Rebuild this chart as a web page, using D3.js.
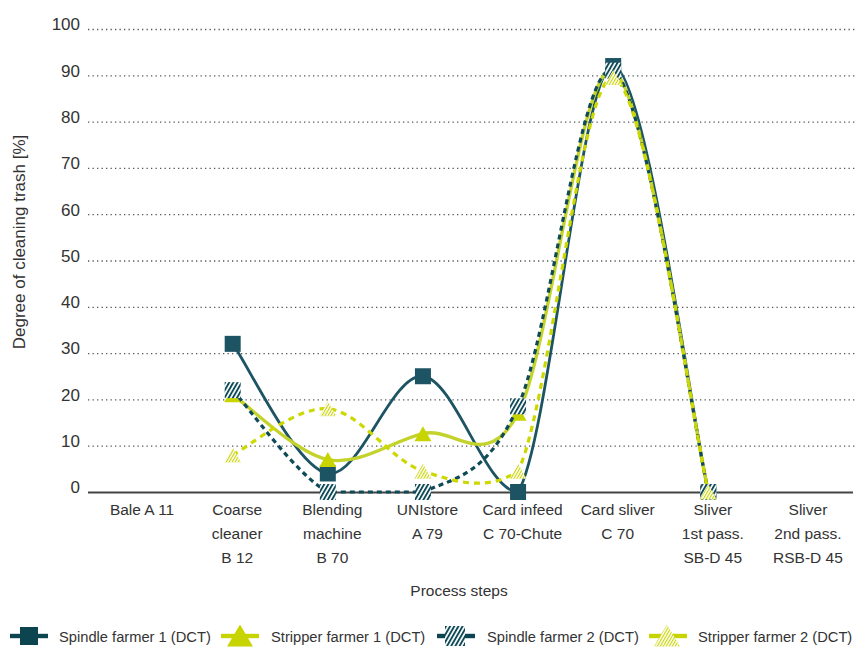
<!DOCTYPE html>
<html><head><meta charset="utf-8">
<script src="https://cdn.jsdelivr.net/npm/d3@7"></script>
<style>
body{margin:0;background:#fff;}
svg{display:block;}
text{font-family:"Liberation Sans",Arial,sans-serif;fill:#333;}
</style>
</head><body>
<svg id="chart" width="863" height="648"></svg>
<script>
// ---------- data ----------
const categories = ["Bale A 11","Coarse cleaner B 12","Blending machine B 70","UNIstore A 79","Card infeed C 70-Chute","Card sliver C 70","Sliver 1st pass. SB-D 45","Sliver 2nd pass. RSB-D 45"];
const categoryLines = [["Bale A 11"],["Coarse","cleaner","B 12"],["Blending","machine","B 70"],["UNIstore","A 79"],["Card infeed","C 70-Chute"],["Card sliver","C 70"],["Sliver","1st pass.","SB-D 45"],["Sliver","2nd pass.","RSB-D 45"]];
const spindle1  = [null, 32, 4, 25, 0, 92, 0, null];
const stripper1 = [null, 21, 7, 12.6, 17, 91, 0, null];
const spindle2  = [null, 22, 0, 0, 18.5, 91, 0, null];
const stripper2 = [null, 8, 18, 4.5, 4.5, 89.5, 0, null];
const seriesNames = ["Spindle farmer 1 (DCT)","Stripper farmer 1 (DCT)","Spindle farmer 2 (DCT)","Stripper farmer 2 (DCT)"];
const yTicks = [0,10,20,30,40,50,60,70,80,90,100];
const yTitle = "Degree of cleaning trash [%]";
const xTitle = "Process steps";

// ---------- styles ----------
const teal = "#1d5464", tealDark = "#0c4450", yellow = "#c8d400";
const series = [
  {name:seriesNames[0], values:spindle1,  stroke:teal,     width:2.8, dash:null,  marker:"square",   fill:teal},
  {name:seriesNames[1], values:stripper1, stroke:"#c4d32c", width:3.4, dash:null,  marker:"triangle", fill:yellow},
  {name:seriesNames[2], values:spindle2,  stroke:"#0f4a57", width:3.2, dash:"5,4", marker:"square",   fill:"url(#hatchDark)"},
  {name:seriesNames[3], values:stripper2, stroke:"#ccd800", width:3.2, dash:"6,5", marker:"triangle", fill:"url(#hatchYellow)"}
];

const svg = d3.select("#chart");
const defs = svg.append("defs");
function hatch(id, color, period, sw){
  const p = defs.append("pattern").attr("id", id).attr("patternUnits","userSpaceOnUse")
    .attr("width", period).attr("height", period).attr("patternTransform","rotate(30)");
  p.append("rect").attr("width", period).attr("height", period).attr("fill","#fff");
  p.append("rect").attr("width", sw).attr("height", period).attr("fill", color);
}
hatch("hatchDark", "#0f4a57", 3.6, 1.9);
hatch("hatchYellow", "#c8d400", 2.6, 1.1);

// ---------- scales ----------
const x = d3.scalePoint().domain(categories).range([90, 851]).padding(0.5);
const y = d3.scaleLinear().domain([0, 100]).range([492, 29]);
const gridX0 = 88, gridX1 = 855;

// ---------- y axis / grid ----------
const yAxis = d3.axisLeft(y).tickValues(yTicks).tickSize(-(gridX1 - gridX0)).tickPadding(8);
const gy = svg.append("g").attr("transform", `translate(${gridX0},0)`).call(yAxis);
gy.select(".domain").remove();
gy.selectAll(".tick line")
  .attr("stroke", "#555").attr("stroke-width", 1.3).attr("stroke-dasharray", "1.3,3.2")
  .filter(d => d === 0).attr("stroke-dasharray", null).attr("stroke", "#444").attr("stroke-width", 2).attr("x2", 853 - gridX0);
gy.selectAll(".tick text").attr("font-size", 17).attr("dy", "0.05em").attr("fill", "#333")
  .attr("font-family", "Liberation Sans, Arial, sans-serif");

// ---------- x axis ----------
const xAxis = d3.axisBottom(x).tickSize(0).tickPadding(0);
const gx = svg.append("g").attr("transform", `translate(0,${y(0)})`).call(xAxis);
gx.select(".domain").remove();
gx.selectAll(".tick text").each(function(d, i){
  const t = d3.select(this).text(null).attr("font-size", 15.5).attr("fill", "#333")
    .attr("font-family", "Liberation Sans, Arial, sans-serif").attr("dy", null).attr("y", 0);
  categoryLines[i].forEach((ln, k) => {
    t.append("tspan").attr("x", 4).attr("y", 23 + k * 24).text(ln);
  });
});

// ---------- titles ----------
svg.append("text").attr("transform", "translate(25,242) rotate(-90)").attr("text-anchor", "middle")
  .attr("font-size", 17).text(yTitle);
svg.append("text").attr("x", 459).attr("y", 596).attr("text-anchor", "middle")
  .attr("font-size", 15.5).text(xTitle);

// ---------- curve: Catmull-Rom bezier with control points kept inside plot ----------
function clampedCatmull(yTop, yBottom){
  return function(context){
    let pts;
    const cl = v => Math.max(yTop, Math.min(yBottom, v));
    return {
      areaStart(){}, areaEnd(){},
      lineStart(){ pts = []; },
      point(px, py){ pts.push([+px, +py]); },
      lineEnd(){
        const n = pts.length; if (!n) return;
        context.moveTo(pts[0][0], pts[0][1]);
        for (let i = 0; i < n - 1; i++){
          const p0 = pts[Math.max(0, i - 1)], p1 = pts[i], p2 = pts[i + 1], p3 = pts[Math.min(n - 1, i + 2)];
          context.bezierCurveTo(
            p1[0] + (p2[0] - p0[0]) / 6, cl(p1[1] + (p2[1] - p0[1]) / 6),
            p2[0] - (p3[0] - p1[0]) / 6, cl(p2[1] - (p3[1] - p1[1]) / 6),
            p2[0], p2[1]);
        }
      }
    };
  };
}
const line = d3.line()
  .defined(d => d.v !== null)
  .x(d => x(d.c)).y(d => y(d.v))
  .curve(clampedCatmull(y(100), y(0)));

const tri = (cx, cy, w, h) => `M${cx},${cy - h/2}L${cx + w/2},${cy + h/2}L${cx - w/2},${cy + h/2}Z`;

series.forEach(s => {
  const data = s.values.map((v, i) => ({c: categories[i], v}));
  const g = svg.append("g");
  g.append("path").attr("d", line(data)).attr("fill", "none")
    .attr("stroke", s.stroke).attr("stroke-width", s.width)
    .attr("stroke-dasharray", s.dash);
  const pts = data.filter(d => d.v !== null);
  if (s.marker === "square"){
    g.selectAll("rect.m").data(pts).join("rect").attr("class","m")
      .attr("x", d => x(d.c) - 8).attr("y", d => y(d.v) - 8)
      .attr("width", 16).attr("height", 16).attr("fill", s.fill);
  } else {
    g.selectAll("path.m").data(pts).join("path").attr("class","m")
      .attr("d", d => tri(x(d.c), y(d.v), 17, 15)).attr("fill", s.fill);
  }
});

// ---------- legend ----------
const legendY = 636;
const legendItems = [
  {bar:[10,48],  mx:29,  tx:59,  marker:"square",   fill:tealDark, barColor:tealDark, size:18},
  {bar:[221,259],mx:240, tx:271, marker:"triangle", fill:yellow,   barColor:yellow,   size:26},
  {bar:[437,475],mx:455, tx:487, marker:"square",   fill:"url(#hatchDark)", barColor:tealDark, size:20},
  {bar:[649,687],mx:667, tx:698, marker:"triangle", fill:"url(#hatchYellow)", barColor:yellow, size:26}
];
const lg = svg.append("g");
legendItems.forEach((it, i) => {
  lg.append("rect").attr("x", it.bar[0]).attr("y", legendY - 2.2).attr("width", it.bar[1] - it.bar[0])
    .attr("height", 4.4).attr("fill", it.barColor);
  if (it.marker === "square"){
    lg.append("rect").attr("x", it.mx - it.size/2).attr("y", legendY - it.size/2)
      .attr("width", it.size).attr("height", it.size).attr("fill", it.fill);
  } else {
    lg.append("path").attr("d", tri(it.mx, legendY - 0.5, it.size, 22)).attr("fill", it.fill);
  }
  lg.append("text").attr("x", it.tx).attr("y", legendY + 5.5).attr("font-size", 14.7).text(seriesNames[i]);
});
</script>
</body></html>
